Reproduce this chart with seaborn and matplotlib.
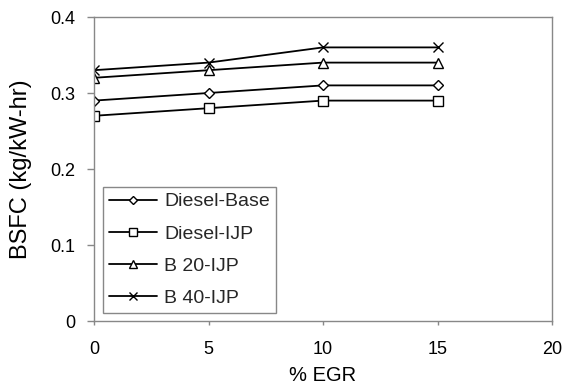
import matplotlib
matplotlib.use("Agg")
import matplotlib.pyplot as plt
import seaborn as sns
import pandas as pd

egr = [0, 5, 10, 15]
diesel_base = [0.29, 0.30, 0.31, 0.31]
diesel_ijp = [0.27, 0.28, 0.29, 0.29]
b20_ijp = [0.32, 0.33, 0.34, 0.34]
b40_ijp = [0.33, 0.34, 0.36, 0.36]
series_names = ["Diesel-Base", "Diesel-IJP", "B 20-IJP", "B 40-IJP"]
x_ticks = [0, 5, 10, 15, 20]
y_ticks = [0, 0.1, 0.2, 0.3, 0.4]
y_tick_labels = ["0", "0.1", "0.2", "0.3", "0.4"]

sns.set_theme(style="white")
plt.rcParams["font.family"] = ["Liberation Sans", "DejaVu Sans"]

rows = []
for name, vals in zip(series_names, [diesel_base, diesel_ijp, b20_ijp, b40_ijp]):
    for x, y in zip(egr, vals):
        rows.append({"EGR": x, "BSFC": y, "Fuel": name})
df = pd.DataFrame(rows)

fig = plt.figure(figsize=(5.66, 3.89), dpi=100)
ax = fig.add_axes([94 / 566, 1 - 321 / 389, (552 - 94) / 566, (321 - 17) / 389])

markers = {"Diesel-Base": "D", "Diesel-IJP": "s", "B 20-IJP": "^", "B 40-IJP": "x"}
sizes = {"Diesel-Base": 4.8, "Diesel-IJP": 7, "B 20-IJP": 7, "B 40-IJP": 6.5}
for name in series_names:
    sub = df[df["Fuel"] == name]
    sns.lineplot(data=sub, x="EGR", y="BSFC", ax=ax, color="black", lw=1.3,
                 marker=markers[name], markersize=sizes[name],
                 markerfacecolor="white", markeredgecolor="black",
                 markeredgewidth=1.0, label=name)

ax.set_xlim(0, 20)
ax.set_ylim(0, 0.4)
ax.set_xticks(x_ticks)
ax.set_yticks(y_ticks)
ax.set_xticklabels([str(t) for t in x_ticks])
ax.set_yticklabels(y_tick_labels)
ax.tick_params(axis="both", labelsize=13, colors="black", width=1,
               color="#888888", direction="out", left=True, bottom=True)
ax.tick_params(axis="y", length=5, pad=8.5)
ax.tick_params(axis="x", length=3, pad=11.5)
for s in ax.spines.values():
    s.set_color("#888888")
    s.set_linewidth(1)
ax.set_xlabel("% EGR", fontsize=14.5, color="black", labelpad=6)
ax.set_ylabel("BSFC (kg/kW-hr)", fontsize=17, color="black", labelpad=13)

leg = ax.legend(loc="upper left", bbox_to_anchor=((103 - 94) / 458, (321 - 187) / 304),
                borderaxespad=0, fontsize=14, frameon=True, fancybox=False,
                edgecolor="#888888", handlelength=2.5, handletextpad=0.35,
                labelspacing=0.75, borderpad=0.3, framealpha=1, markerscale=0.85)
leg.get_frame().set_linewidth(1)

fig.savefig("out.png", dpi=100)
